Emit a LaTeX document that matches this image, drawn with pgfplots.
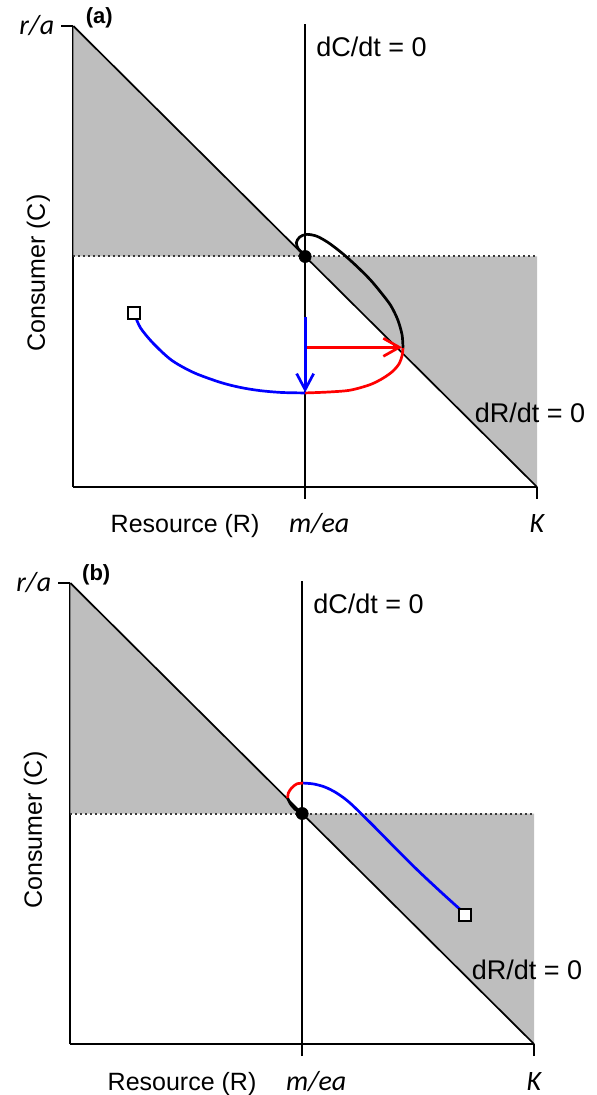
\documentclass[border=0pt]{standalone}
\usepackage{fontspec}
\setmainfont{Liberation Sans}
\newfontfamily\carlito{Carlito}
\usepackage{pgfplots}
\pgfplotsset{compat=1.18}
\usetikzlibrary{arrows.meta}

\definecolor{shade}{RGB}{190,190,190}
\definecolor{rblue}{RGB}{0,0,255}
\definecolor{rred}{RGB}{255,0,0}
\definecolor{dotgray}{RGB}{55,55,55}

\pgfplotsset{
  phase/.style={
    scale only axis, width=231.85pt, height=230.5pt,
    xmin=0, xmax=10, ymin=0, ymax=10,
    axis x line*=bottom, axis y line*=left,
    axis line style={line width=1pt, -},
    xtick={5,10}, xticklabels={{\kern14pt m/ea},{K}},
    ytick={10}, yticklabels={r/a},
    tick align=outside, major tick length=6pt,
    tick style={line width=1pt, black},
    ticklabel style={font=\fontsize{14}{16}\selectfont\carlito\itshape},
    xticklabel style={anchor=base, yshift=-17pt},
    clip=false,
    xlabel={Resource (R)}, ylabel={Consumer (C)},
    xlabel style={at={(axis description cs:0.241,-0.0998)}, anchor=base,
      font=\fontsize{12.5}{15}\selectfont},
    ylabel style={at={(axis description cs:-0.0755,0.464)}, anchor=center,
      font=\fontsize{12.5}{15}\selectfont},
  },
  traj/.style={line width=1.35pt, smooth, tension=0.5},
}
\tikzset{note/.style={font=\fontsize{13.5}{16}\selectfont, anchor=base}}

% shared background of each panel: shaded zones and isoclines
\newcommand{\isoclines}{%
  \addplot[fill=shade, draw=none] coordinates {(0,10) (5,5) (0,5)};
  \addplot[fill=shade, draw=none] coordinates {(5,5) (10,5) (10,0)};
  \addplot[dotgray, line width=1pt, dash pattern=on 1pt off 1.5pt] coordinates {(0,5) (10,5)};
  \addplot[black, line width=0.85pt] coordinates {(0,10) (10,0)};
  \addplot[black, line width=0.85pt] coordinates {(5,0) (5,10.05)};
}

\begin{document}
\begin{tikzpicture}
\useasboundingbox (-36.65pt,-304pt) rectangle (261.85pt,243.5pt);

% panel (a)
\begin{axis}[phase, at={(0pt,0pt)}, anchor=origin]
\isoclines
\addplot[rblue, traj] coordinates {
  (1.33,3.72) (1.45,3.45) (1.72,3.12) (2.12,2.75) (2.6,2.48) (3.17,2.27)
  (3.6,2.16) (4.03,2.09) (4.5,2.05) (5,2.04)};
\addplot[rred, traj] coordinates {
  (5,2.04) (5.5,2.06) (5.97,2.1) (6.4,2.22) (6.68,2.36) (6.9,2.52)
  (7.03,2.68) (7.09,2.85) (7.11,3.02)};
\addplot[black, traj] coordinates {
  (7.11,3.02) (7.09,3.3) (7.0,3.62) (6.85,3.93) (6.65,4.2) (6.4,4.5)
  (6.1,4.8) (5.8,5.07) (5.5,5.3) (5.25,5.44) (5.03,5.48) (4.88,5.42)
  (4.81,5.3) (4.85,5.17) (4.94,5.08) (5,5.03)};
\addplot[rred, line width=1.35pt, -{Straight Barb[length=8pt,width=9pt,line width=1.35pt]}]
  coordinates {(5,3.03) (7.09,3.03)};
\addplot[rblue, line width=1.35pt, -{Straight Barb[length=8pt,width=8.5pt,line width=1.35pt]}]
  coordinates {(5,3.69) (5,2.05)};
\addplot[only marks, mark=*, mark size=3pt, black] coordinates {(5,5)};
\addplot[only marks, mark=square*, mark size=3pt,
  mark options={fill=white, draw=black, line width=0.8pt}] coordinates {(1.31,3.78)};
\node[note] at (axis cs:6.43,9.33) {dC/dt = 0};
\node[note] at (axis cs:9.85,1.39) {dR/dt = 0};
\node[font=\bfseries\fontsize{11}{13}\selectfont] at (axis cs:0.56,10.17) {(a)};
\end{axis}

% panel (b)
\begin{axis}[phase, at={(-1.5pt,-278.5pt)}, anchor=origin]
\isoclines
\addplot[rblue, traj] coordinates {
  (8.45,2.88) (8.0,3.29) (7.5,3.76) (7.0,4.26) (6.5,4.77) (6.03,5.23)
  (5.75,5.44) (5.5,5.57) (5.25,5.64) (5.02,5.66)};
\addplot[rred, traj] coordinates {
  (5.02,5.66) (4.88,5.64) (4.77,5.55) (4.7,5.44) (4.69,5.33)};
\addplot[black, traj] coordinates {
  (4.69,5.33) (4.74,5.22) (4.85,5.09) (5,5.02)};
\addplot[only marks, mark=*, mark size=3pt, black] coordinates {(5,5)};
\addplot[only marks, mark=square*, mark size=3pt,
  mark options={fill=white, draw=black, line width=0.8pt}] coordinates {(8.51,2.80)};
\node[note] at (axis cs:6.43,9.33) {dC/dt = 0};
\node[note] at (axis cs:9.85,1.39) {dR/dt = 0};
\node[font=\bfseries\fontsize{11}{13}\selectfont] at (axis cs:0.56,10.17) {(b)};
\end{axis}
\end{tikzpicture}
\end{document}
